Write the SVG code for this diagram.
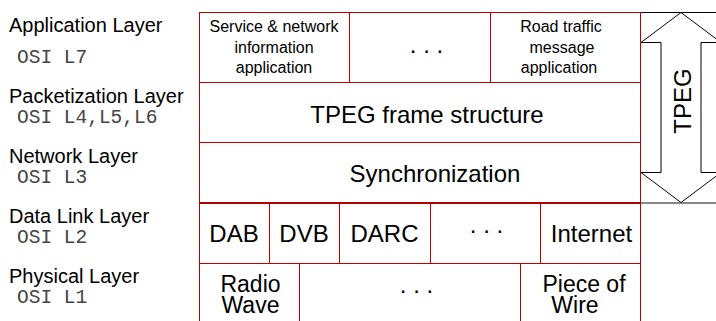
<svg xmlns="http://www.w3.org/2000/svg" width="716" height="321" viewBox="0 0 716 321">
<style>
.lbl{font-family:"Liberation Sans",Arial,Helvetica,sans-serif;font-size:20px;fill:#000}
.osi{font-family:"Liberation Mono","Courier New",monospace;font-size:19.5px;fill:#444}
.t16{font-family:"Liberation Sans",Arial,Helvetica,sans-serif;font-size:16px;fill:#000;text-anchor:middle}
.t24{font-family:"Liberation Sans",Arial,Helvetica,sans-serif;font-size:24px;fill:#000;text-anchor:middle}
.t23{font-family:"Liberation Sans",Arial,Helvetica,sans-serif;font-size:23px;fill:#000;text-anchor:middle}
.cell{fill:none;stroke:#c00000;stroke-width:1}
</style>
<rect width="716" height="321" fill="#fff"/>
<g id="layer-labels">
<text class="lbl" x="9" y="32">Application Layer</text>
<text class="osi" x="17" y="63">OSI L7</text>
<text class="lbl" x="9" y="103">Packetization Layer</text>
<text class="osi" x="17" y="123">OSI L4,L5,L6</text>
<text class="lbl" x="9" y="163">Network Layer</text>
<text class="osi" x="17" y="183">OSI L3</text>
<text class="lbl" x="9" y="223">Data Link Layer</text>
<text class="osi" x="17" y="243">OSI L2</text>
<text class="lbl" x="9" y="283">Physical Layer</text>
<text class="osi" x="17" y="303">OSI L1</text>
</g>
<g id="app-service">
<rect class="cell" x="199.5" y="12.5" width="150" height="70"/>
<text class="t16" x="274" y="32">Service &amp; network</text>
<text class="t16" x="274" y="53">information</text>
<text class="t16" x="274" y="73">application</text>
</g>
<g id="app-more">
<rect class="cell" x="349.5" y="12.5" width="141" height="70"/>
<text class="t24" x="426.5" y="53">. . .</text>
</g>
<g id="app-road">
<rect class="cell" x="490.5" y="12.5" width="150" height="70"/>
<text class="t16" x="561" y="32">Road traffic</text>
<text class="t16" x="562" y="53">message</text>
<text class="t16" x="559" y="73">application</text>
</g>
<g id="tpeg-frame">
<rect class="cell" x="199.5" y="82.5" width="441" height="60"/>
<text class="t24" x="427" y="123">TPEG frame structure</text>
</g>
<g id="sync">
<rect class="cell" x="199.5" y="142.5" width="441" height="60.5"/>
<text class="t24" x="435" y="182">Synchronization</text>
</g>
<g id="dl-dab">
<rect class="cell" x="199.5" y="203" width="70" height="60.5"/>
<text class="t24" x="234" y="242">DAB</text>
</g>
<g id="dl-dvb">
<rect class="cell" x="269.5" y="203" width="70" height="60.5"/>
<text class="t24" x="304" y="242">DVB</text>
</g>
<g id="dl-darc">
<rect class="cell" x="339.5" y="203" width="91" height="60.5"/>
<text class="t24" x="384.5" y="242">DARC</text>
</g>
<g id="dl-more">
<rect class="cell" x="430.5" y="203" width="110" height="60.5"/>
<text class="t24" x="486.5" y="233">. . .</text>
</g>
<g id="dl-internet">
<rect class="cell" x="540.5" y="203" width="100" height="60.5"/>
<text class="t24" x="591.5" y="242">Internet</text>
</g>
<g id="ph-radio">
<rect class="cell" x="199.5" y="263.5" width="100" height="70"/>
<text class="t23" x="250.5" y="292">Radio</text>
<text class="t23" x="250.5" y="313">Wave</text>
</g>
<g id="ph-more">
<rect class="cell" x="299.5" y="263.5" width="221" height="70"/>
<text class="t24" x="416.5" y="292.5">. . .</text>
</g>
<g id="ph-wire">
<rect class="cell" x="520.5" y="263.5" width="120" height="70"/>
<text class="t23" x="584" y="292">Piece of</text>
<text class="t23" x="575" y="313">Wire</text>
</g>
<line x1="199" y1="203" x2="641" y2="203" stroke="#b00000" stroke-width="2"/>
<g id="tpeg-arrow">
<line x1="640.5" y1="12.5" x2="716" y2="12.5" stroke="#000" stroke-width="1"/>
<line x1="640.5" y1="203" x2="716" y2="203" stroke="#888" stroke-width="2"/>
<path d="M681,12.5 L641,42.5 L661,42.5 L661,172.5 L641,172.5 L681,202.5 L721,172.5 L701,172.5 L701,42.5 L721,42.5 Z" fill="#fff" stroke="#000" stroke-width="1"/>
<line x1="640.5" y1="12" x2="640.5" y2="321" stroke="#c00000" stroke-width="1"/>
<text class="t24" transform="translate(691,101) rotate(-90)" x="0" y="0">TPEG</text>
</g>
</svg>
